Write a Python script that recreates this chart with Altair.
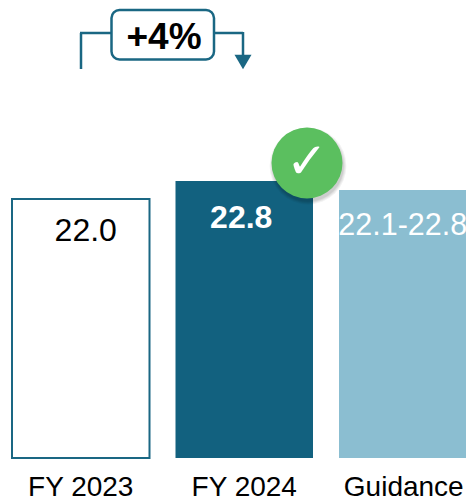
import altair as alt
import pandas as pd

categories = ["FY 2023", "FY 2024", "Guidance"]
values = [22.0, 22.8, 22.4]
labels = ["22.0", "22.8", "22.1-22.8"]
fills = ["#FFFFFF", "#12617F", "#8BBED1"]
strokes = ["#1A6783", "#12617F", "#8BBED1"]
stroke_widths = [2, 0, 0]
baseline_value = [10.49, 10.49, 10.49]
growth_label = "+4%"

FONT = "Liberation Sans"
TEAL = "#1A6783"
GREEN = "#5BBF5F"

df = pd.DataFrame({"cat": categories, "v": values, "label": labels, "fill": fills,
                   "stroke": strokes, "sw": stroke_widths, "base": baseline_value})

x_scale = alt.Scale(domain=categories, range=[4, 468.5], paddingInner=0.159, paddingOuter=0)
x = alt.X("cat:N", sort=categories, title=None, scale=x_scale,
          axis=alt.Axis(domain=False, ticks=False, labelAngle=0, labelFontSize=28, labelFont=FONT,
                        labelColor="#000000", labelPadding=5, grid=False,
                        labelOffset=alt.expr("datum.value === 'Guidance' ? -4 : 0")))
y = alt.Y("v:Q", title=None, scale=alt.Scale(domain=[10.045, 30.49], zero=False), axis=None)

bars = alt.Chart(df).mark_bar(clip=True).encode(
    x=x, y=y, y2="base:Q",
    fill=alt.Fill("fill:N", scale=None), stroke=alt.Stroke("stroke:N", scale=None),
    strokeWidth=alt.StrokeWidth("sw:Q", scale=None))

text_spec = [
    (0, 223, 32, "#000000", "normal", 5),
    (1, 210, 32, "#FFFFFF", "bold", -3),
    (2, 218, 30.5, "#FFFFFF", "normal", -5),
]
texts = [
    alt.Chart(df[df.cat == categories[i]]).mark_text(
        font=FONT, fontSize=fs, baseline="middle", color=c, fontWeight=w, dx=dx
    ).encode(x=x, y=alt.value(py), text="label:N")
    for i, py, fs, c, w, dx in text_spec
]

one = pd.DataFrame({"a": [1]})


def rule(x1, y1, x2, y2):
    return alt.Chart(one).mark_rule(color=TEAL, strokeWidth=2.5).encode(
        x=alt.value(x1), y=alt.value(y1), x2=alt.value(x2), y2=alt.value(y2))


annot = [
    rule(73, 61, 73, 25), rule(72, 25, 103, 25), rule(206, 25, 235, 25), rule(235, 24, 235, 50),
    alt.Chart(one).mark_point(shape="triangle-down", filled=True, color=TEAL, opacity=1, size=289).encode(
        x=alt.value(235), y=alt.value(54)),
    alt.Chart(one).mark_rect(fill="#FFFFFF", stroke=TEAL, strokeWidth=2.5, cornerRadius=8).encode(
        x=alt.value(103.5), x2=alt.value(206), y=alt.value(2), y2=alt.value(51.5)),
    alt.Chart(pd.DataFrame({"t": [growth_label]})).mark_text(
        font=FONT, fontSize=37, fontWeight="bold", color="#000000", baseline="middle").encode(
        x=alt.value(156), y=alt.value(30), text="t:N"),
]

shadow = [
    alt.Chart(one).mark_circle(color="#000000", opacity=0.05, size=s).encode(
        x=alt.value(300), y=alt.value(158))
    for s in (5900, 5600, 5300, 5100)
]
badge = [
    alt.Chart(one).mark_circle(color=GREEN, opacity=1, size=5041).encode(
        x=alt.value(299), y=alt.value(155)),
    alt.Chart(pd.DataFrame({"t": ["\u2713"]})).mark_text(
        font="DejaVu Sans", fontSize=50, fontWeight="bold", color="#FFFFFF", baseline="middle").encode(
        x=alt.value(299), y=alt.value(155), text="t:N"),
]

chart = alt.layer(bars, *texts, *annot, *shadow, *badge).properties(
    width=458, height=460,
    autosize=alt.AutoSizeParams(type="none"),
    padding={"left": 0, "top": 0, "right": 0, "bottom": 34},
).configure_view(stroke=None)

chart.save("out.html", embed_options={"renderer": "svg", "actions": False})
